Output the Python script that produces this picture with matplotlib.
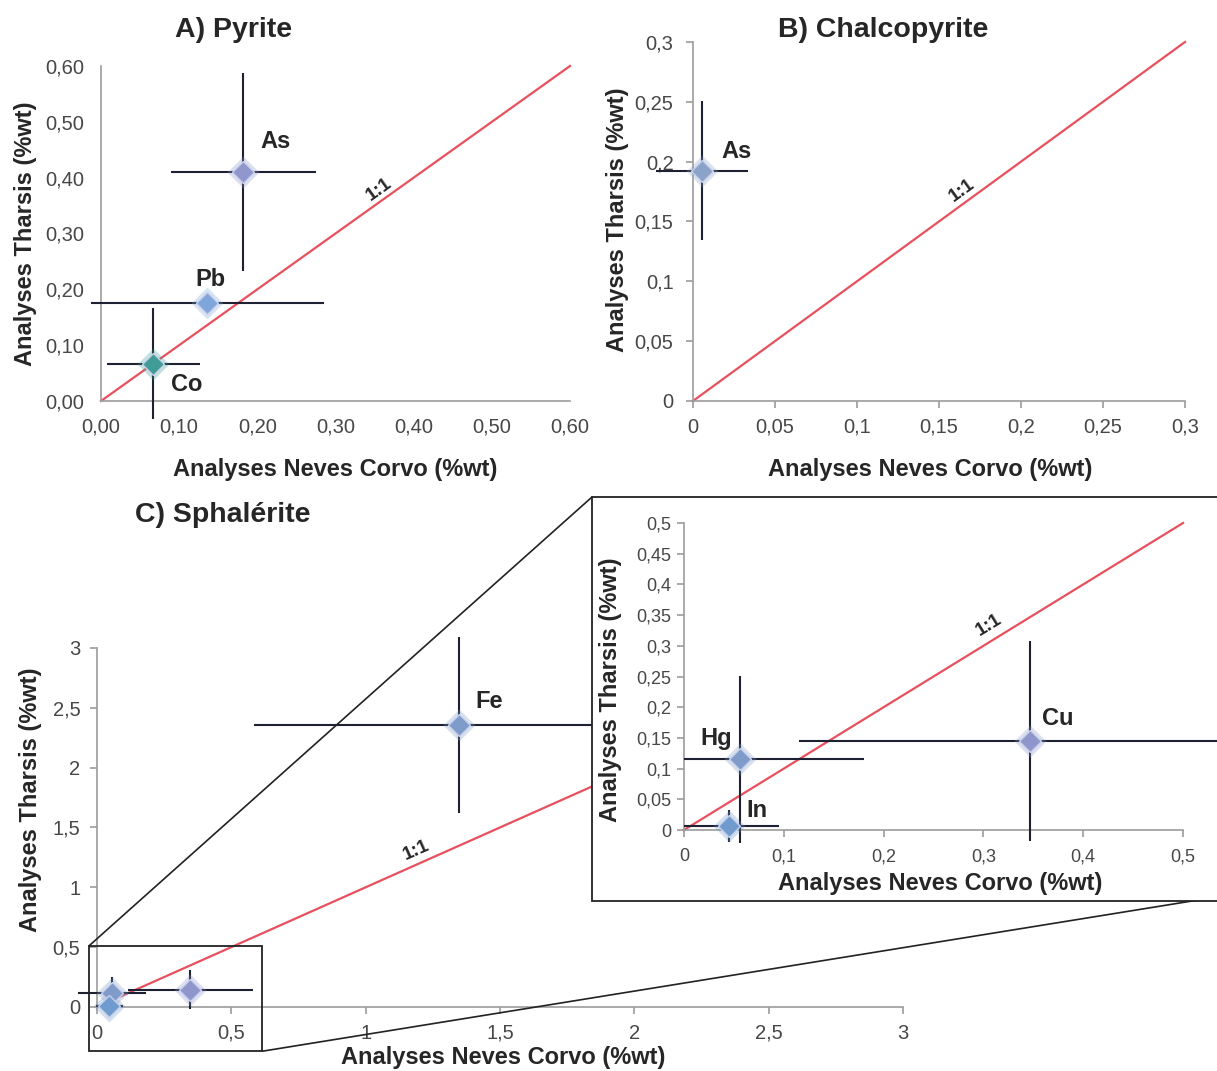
import numpy as np
import matplotlib
matplotlib.use('Agg')
import matplotlib.pyplot as plt
from matplotlib.patches import Rectangle, ConnectionPatch

plt.rcParams['font.family'] = ['Liberation Sans', 'DejaVu Sans']

# ---- data ----
# A) Pyrite
a_el = ['As', 'Pb', 'Co']
a_x = [0.182, 0.136, 0.067]
a_y = [0.410, 0.176, 0.067]
a_xerr = [0.093, 0.149, 0.059]
a_yerr = [0.177, 0.0, 0.100]
a_col = ['#8f97cd', '#7ea6da', '#3f9c96']
a_ticks = [0, 0.1, 0.2, 0.3, 0.4, 0.5, 0.6]
a_labels = ['0,00', '0,10', '0,20', '0,30', '0,40', '0,50', '0,60']

# B) Chalcopyrite
b_el = ['As']
b_x = [0.0055]
b_y = [0.1925]
b_xerr = [0.028]
b_yerr = [0.058]
b_col = ['#8ba2c9']
b_ticks = [0, 0.05, 0.1, 0.15, 0.2, 0.25, 0.3]
b_labels = ['0', '0,05', '0,1', '0,15', '0,2', '0,25', '0,3']

# C) Sphalerite
c_el = ['Fe', 'Cu', 'Hg', 'In']
c_x = [1.346, 0.347, 0.0557, 0.045]
c_y = [2.357, 0.145, 0.115, 0.007]
c_xerr = [0.762, 0.232, 0.125, 0.050]
c_yerr = [0.735, 0.163, 0.136, 0.026]
c_col = ['#7f9bc9', '#8e96cb', '#7f9bc9', '#6f9bcf']
c_ticks = [0, 0.5, 1, 1.5, 2, 2.5, 3]
c_labels = ['0', '0,5', '1', '1,5', '2', '2,5', '3']
i_yticks = [0, 0.05, 0.1, 0.15, 0.2, 0.25, 0.3, 0.35, 0.4, 0.45, 0.5]
i_ylabels = ['0', '0,05', '0,1', '0,15', '0,2', '0,25', '0,3', '0,35', '0,4', '0,45', '0,5']
i_xticks = [0, 0.1, 0.2, 0.3, 0.4, 0.5]
i_xlabels = ['0', '0,1', '0,2', '0,3', '0,4', '0,5']

XLAB = 'Analyses Neves Corvo (%wt)'
YLAB = 'Analyses Tharsis (%wt)'
RED = '#e8505e'
BAR = '#1d2131'
AXC = '#9c9c9c'
TXT = '#474747'
DARK = '#262626'

fig = plt.figure(figsize=(12.17, 10.71), dpi=100)


def style(ax, xt, xl, yt, yl, fs=14.5, ticklen=0, xpad=6, ypad=8):
    for s in ['top', 'right']:
        ax.spines[s].set_visible(False)
    for s in ['left', 'bottom']:
        ax.spines[s].set_color(AXC)
        ax.spines[s].set_linewidth(1.2)
    ax.set_xticks(xt)
    ax.set_xticklabels(xl)
    ax.set_yticks(yt)
    ax.set_yticklabels(yl)
    ax.tick_params(labelsize=fs, colors=AXC, labelcolor=TXT, length=ticklen, width=1.2)
    ax.tick_params(axis='x', pad=xpad)
    ax.tick_params(axis='y', pad=ypad)
    ax.set_facecolor('none')


def axlabels(ax, xpos, ypos):
    ax.set_xlabel(XLAB, fontsize=17, fontweight='bold', color=DARK, va='center')
    ax.set_ylabel(YLAB, fontsize=17, fontweight='bold', color=DARK, va='center')
    ax.xaxis.set_label_coords(*xpos)
    ax.yaxis.set_label_coords(*ypos)


def points(ax, xs, ys, xe, ye, cols, clip=False, ms=11):
    for x, y, dx, dy, c in zip(xs, ys, xe, ye, cols):
        ax.errorbar(x, y, xerr=dx if dx else None, yerr=dy if dy else None, fmt='none',
                    ecolor=BAR, elinewidth=1.5, capsize=0, clip_on=clip, zorder=3)
        ax.plot(x, y, 'D', ms=ms + 5, color=c, alpha=0.3, mec='none', clip_on=clip, zorder=4)
        ax.plot(x, y, 'D', ms=ms, color=c, mec='#c8d0ea', mew=1, clip_on=clip, zorder=5)


def labels(ax, xs, ys, names, offs, fs=17):
    for x, y, n, o in zip(xs, ys, names, offs):
        ax.annotate(n, (x, y), xytext=o, textcoords='offset points', ha='center', va='center',
                    fontsize=fs, fontweight='bold', color=DARK, annotation_clip=False)


def one2one(ax, top, tx, off, fs=13.5):
    ax.plot([0, top], [0, top], color=RED, lw=1.6, zorder=2, clip_on=False)
    ax.text(tx, tx + off, '1:1', rotation=45, transform_rotates_text=True, rotation_mode='anchor',
            ha='center', va='bottom', fontsize=fs, fontweight='bold', color=DARK)


# ---- A) Pyrite ----
axA = fig.add_axes([0.0830, 0.6256, 0.3854, 0.3128])
axA.set_xlim(0, 0.6)
axA.set_ylim(0, 0.6)
style(axA, a_ticks, a_labels, a_ticks, a_labels, xpad=12, ypad=12)
one2one(axA, 0.6, 0.362, 0.004)
points(axA, a_x, a_y, a_xerr, a_yerr, a_col)
labels(axA, a_x, a_y, a_el, [(23, 22), (2, 17), (24, -15)])
axlabels(axA, (0.5, -0.206), (-0.162, 0.5))
fig.text(0.192, 0.972, 'A) Pyrite', fontsize=20.5, fontweight='bold', color=DARK, ha='center', va='center')

# ---- B) Chalcopyrite ----
axB = fig.add_axes([0.5694, 0.6256, 0.4043, 0.3352])
axB.set_xlim(0, 0.3)
axB.set_ylim(0, 0.3)
style(axB, b_ticks, b_labels, b_ticks, b_labels, ticklen=5, xpad=7, ypad=9)
one2one(axB, 0.3, 0.167, 0.003)
points(axB, b_x, b_y, b_xerr, b_yerr, b_col)
labels(axB, b_x, b_y, b_el, [(25, 14)])
axlabels(axB, (0.482, -0.192), (-0.154, 0.504))
fig.text(0.726, 0.972, 'B) Chalcopyrite', fontsize=20.5, fontweight='bold', color=DARK, ha='center', va='center')

# ---- C) Sphalerite ----
axC = fig.add_axes([0.0797, 0.0598, 0.6623, 0.3352])
axC.set_xlim(0, 3)
axC.set_ylim(0, 3)
style(axC, c_ticks, c_labels, c_ticks, c_labels, ticklen=5, xpad=7, ypad=7)
one2one(axC, 3, 1.2, 0.04)
points(axC, c_x, c_y, c_xerr, c_yerr, c_col)
labels(axC, c_x[:1], c_y[:1], c_el[:1], [(22, 17)])
axlabels(axC, (0.504, -0.142), (-0.083, 0.577))
fig.text(0.183, 0.519, 'C) Sphalérite', fontsize=20.5, fontweight='bold', color=DARK, ha='center', va='center')

# zoom box and its frame
axC.add_patch(Rectangle((-0.03, -0.37), 0.645, 0.88, fill=False, ec='#222222', lw=1.3, clip_on=False, zorder=6))
frame = Rectangle((0.4864, 0.1587), 0.52, 0.3772, transform=fig.transFigure, fc='white', ec='#222222', lw=1.3, zorder=1)
fig.add_artist(frame)
for pa, pb in [((-0.03, 0.51), (0.4864, 0.5359)), ((0.615, -0.37), (1.0, 0.1625))]:
    con = ConnectionPatch(xyA=pa, coordsA=axC.transData, xyB=pb, coordsB=fig.transFigure,
                          color='#222222', lw=1.2, zorder=0.5)
    fig.add_artist(con)

# ---- inset ----
axI = fig.add_axes([0.5620, 0.2078, 0.4388, 0.3096], zorder=2)
axI.set_xlim(0, 0.535)
axI.set_ylim(-0.03, 0.51)
style(axI, i_xticks, i_xlabels, i_yticks, i_ylabels, fs=13, ticklen=5, xpad=8, ypad=4)
axI.spines['bottom'].set_position(('data', 0))
axI.spines['bottom'].set_bounds(0, 0.5)
axI.spines['left'].set_bounds(0, 0.5)
one2one(axI, 0.5, 0.31, 0.012)
points(axI, c_x[1:], c_y[1:], c_xerr[1:], c_yerr[1:], c_col[1:], clip=True)
labels(axI, c_x[1:], c_y[1:], c_el[1:], [(20, 16), (-17, 15), (20, 11)])
axlabels(axI, (0.479, -0.107), (-0.137, 0.478))

fig.savefig('out.png', dpi=100)
